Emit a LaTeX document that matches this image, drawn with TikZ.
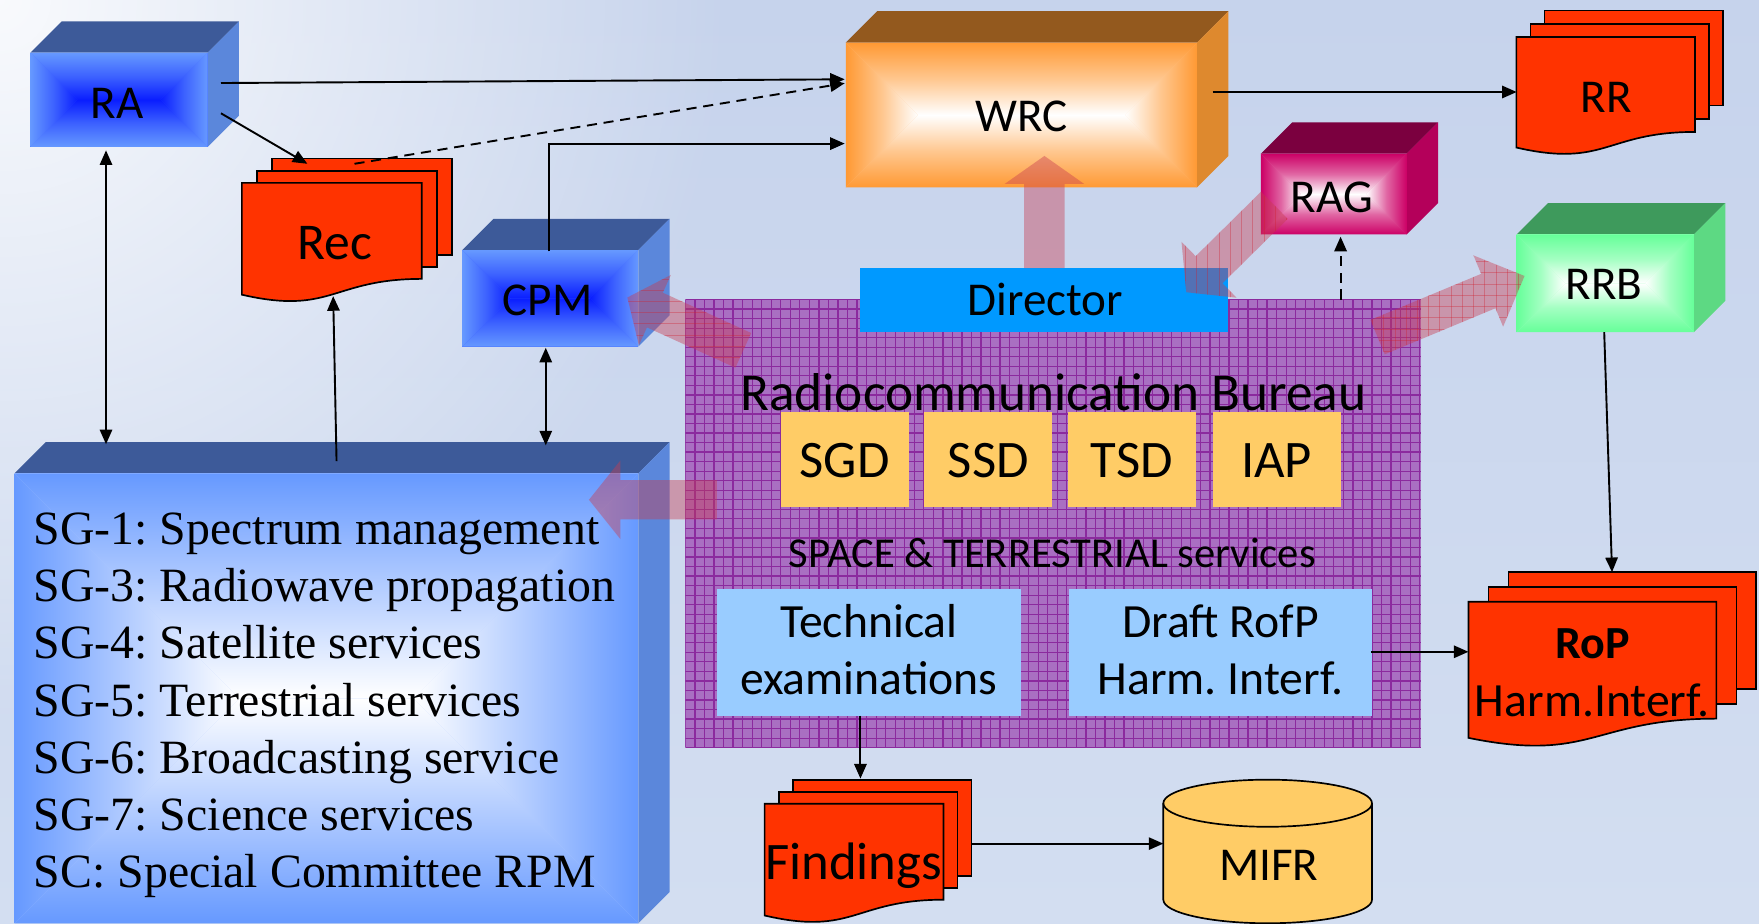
\documentclass[tikz,border=0pt]{standalone}
\usepackage{fontspec}
\setmainfont{Carlito}
\newfontfamily\tnr{Liberation Serif}
\usetikzlibrary{calc,arrows.meta,fadings}
\frenchspacing
\definecolor{bgtop}{HTML}{C6D3EC}
\definecolor{bgbot}{HTML}{D3DEF1}
\definecolor{bedge}{HTML}{6699FF}
\definecolor{bcen}{HTML}{0A1EFF}
\definecolor{btop}{HTML}{3D5A99}
\definecolor{bside}{HTML}{5B87DB}
\definecolor{wedge}{HTML}{FF9933}
\definecolor{wtop}{HTML}{93591E}
\definecolor{wside}{HTML}{DE892E}
\definecolor{gedge}{HTML}{CC0066}
\definecolor{gtop}{HTML}{7B003F}
\definecolor{gside}{HTML}{B4005A}
\definecolor{redge}{HTML}{66FF99}
\definecolor{rtop}{HTML}{3E9A5C}
\definecolor{rside}{HTML}{5DD983}
\definecolor{docred}{HTML}{FF3300}
\definecolor{dirblue}{HTML}{0099FF}
\definecolor{ltblue}{HTML}{99CCFF}
\definecolor{gold}{HTML}{FFCC66}
\definecolor{gridfill}{HTML}{A96FC2}
\definecolor{gridline}{HTML}{8B2A9E}
\definecolor{arrred}{HTML}{C83C50}
\definecolor{arrline}{HTML}{D02030}
\tikzfading[name=myfade, inner color=transparent!0, outer color=transparent!100]

% rectangular gradient: x0 y0 x1 y1 edge center mid
\newcommand\rgrad[7]{%
  \pgfmathsetmacro\rgd{min(#3-#1,#4-#2)/2}%
  \pgfmathsetmacro\rgcy{(#2+#4)/2}%
  \pgfmathsetmacro\rgxa{#1+\rgd}%
  \pgfmathsetmacro\rgxb{#3-\rgd}%
  \fill[#7] (#1,#2) rectangle (#3,#4);
  \shade[top color=#5, bottom color=#6, middle color=#7] (#1,#2) -- (#3,#2) -- (\rgxb,\rgcy) -- (\rgxa,\rgcy) -- cycle;
  \shade[top color=#6, bottom color=#5, middle color=#7] (#1,#4) -- (#3,#4) -- (\rgxb,\rgcy) -- (\rgxa,\rgcy) -- cycle;
  \shade[left color=#5, right color=#6, middle color=#7] (#1,#2) -- (\rgxa,\rgcy) -- (#1,#4) -- cycle;
  \shade[left color=#6, right color=#5, middle color=#7] (#3,#2) -- (\rgxb,\rgcy) -- (#3,#4) -- cycle;
}
% cuboid: x0 y0 x1 y1 edge center mid top side
\newcommand\cuboid[9]{%
  \fill[#8] (#1,#2) -- (#1+28,#2-28) -- (#3+28,#2-28) -- (#3,#2) -- cycle;
  \fill[#9] (#3,#2) -- (#3+28,#2-28) -- (#3+28,#4-28) -- (#3,#4) -- cycle;
  \rgrad{#1}{#2}{#3}{#4}{#5}{#6}{#7}}
% document stack: x0 y0 x1 yr ox oy
\newcommand\docstack[6]{%
  \pgfmathsetmacro\dH{(#4-#2)/0.802}%
  \pgfmathsetmacro\dmid{(#1+#3)/2}%
  \pgfmathsetmacro\dlow{#2+1.1075*\dH}%
  \pgfmathsetmacro\dleft{#2+0.934*\dH}%
  \filldraw[docst] (#1+2*#5,#2-2*#6) rectangle (#3+2*#5,#4-2*#6);
  \filldraw[docst] (#1+#5,#2-#6) rectangle (#3+#5,#4-#6);
  \filldraw[docst] (#1,#2) -- (#3,#2) -- (#3,#4) .. controls (\dmid,#4) and (\dmid,\dlow) .. (#1,\dleft) -- cycle;}
% block arrow polygon
\newcommand\baPoly[6]{%
  \path[#6] ($(#1)!#3!90:(#2)$) -- ($(bhx)!#3!90:(#2)$) -- ($(bhx)!#4!90:(#2)$) -- (#2) -- ($(bhx)!#4!-90:(#2)$) -- ($(bhx)!#3!-90:(#2)$) -- ($(#1)!#3!-90:(#2)$) -- cycle;}
% tail tip w W h linekind(0 none,1 horizontal,2 vertical,3 both)
\newcommand\blockarr[6]{%
  \coordinate (bhx) at ($(#2)!#5!(#1)$);
  \coordinate (bmid) at ($(#1)!0.5!(#2)$);
  \baPoly{#1}{#2}{#3}{#4}{#5}{barr}
  \begin{scope}
    \baPoly{#1}{#2}{#3}{#4}{#5}{clip}
    \ifnum#6=1 \foreach \k in {-9,...,9} {\draw[hl] ($(bmid)+(-100,\k*10)$) -- ++(200,0);}\fi
    \ifnum#6=2 \foreach \k in {-9,...,9} {\draw[hl] ($(bmid)+(\k*10,-100)$) -- ++(0,200);}\fi
    \ifnum#6=3 \foreach \k in {-9,...,9} {\draw[hl] ($(bmid)+(-100,\k*10)$) -- ++(200,0); \draw[hl] ($(bmid)+(\k*10,-100)$) -- ++(0,200);}\fi
  \end{scope}}

\begin{document}
\begin{tikzpicture}[x=1pt,y=-1pt,
  lbl/.style={inner sep=0pt, anchor=base, font=\fontsize{42}{50}\selectfont},
  sgl/.style={inner sep=0pt, anchor=base west, font=\tnr\fontsize{42.6}{51}\selectfont},
  conn/.style={line width=1.7pt, -{Triangle[length=13pt,width=11pt]}},
  dconn/.style={conn, dash pattern=on 9pt off 6pt},
  bconn/.style={line width=1.7pt, {Triangle[length=13pt,width=11pt]}-{Triangle[length=13pt,width=11pt]}},
  docst/.style={fill=docred, draw=black, line width=1.5pt},
  barr/.style={fill=arrred, fill opacity=0.42},
  hl/.style={draw=arrline, draw opacity=0.35, line width=0.8pt},
]
\useasboundingbox (0,0) rectangle (1568,822.8);
% background
\shade[top color=bgtop, bottom color=bgbot] (0,0) rectangle (1568,822.8);
\begin{scope}
  \clip (0,0) rectangle (1568,822.8);
  \fill[white, path fading=myfade, fill opacity=0.9] (0,0) circle (650);
\end{scope}

% Bureau grid area
\fill[gridfill] (611,267) rectangle (1267,666);
\begin{scope}
  \clip (611,267) rectangle (1267,666);
  \foreach \i in {0,...,77} { \draw[gridline, line width=1.1pt] (611+\i*8.5,267) -- (611+\i*8.5,666); }
  \foreach \i in {0,...,47} { \draw[gridline, line width=1.1pt] (611,267+\i*8.5) -- (1267,267+\i*8.5); }
\end{scope}
\node[inner sep=0pt, minimum width=656pt, minimum height=399pt] (Bureau) at (939,466.5) {};

% Director and inner boxes
\fill[dirblue] (767,239) rectangle (1095,296);
\fill[gold] (696,367) rectangle (810,452);
\fill[gold] (824,367) rectangle (938,452);
\fill[gold] (952,367) rectangle (1066,452);
\fill[gold] (1081,367) rectangle (1195,452);
\fill[ltblue] (639,525) rectangle (910,638);
\fill[ltblue] (953,525) rectangle (1223,638);

% cuboids
\cuboid{27}{47}{185}{131}{bedge}{bcen}{bedge!55!bcen}{btop}{bside}
\cuboid{412}{223}{569}{309}{bedge}{bcen}{bedge!55!bcen}{btop}{bside}
\cuboid{754}{38}{1067}{167}{wedge}{white}{wedge!55!white}{wtop}{wside}
\cuboid{1124}{137}{1254}{209}{gedge}{white}{gedge!60!white}{gtop}{gside}
\cuboid{1352}{209}{1510}{296}{redge}{white}{redge!60!white}{rtop}{rside}
\cuboid{13}{422}{569}{823}{bedge}{white}{bedge!50!white}{btop}{bside}

% documents
\docstack{215.6}{163}{376}{248.6}{13.5}{10.8}
\docstack{1351.7}{33}{1511}{117.6}{12.5}{11.8}
\docstack{1309}{536.4}{1530}{640.6}{17.8}{13.3}
\docstack{681.6}{716.4}{841}{802}{12.5}{10.7}

% MIFR cylinder
\filldraw[fill=gold, draw=black, line width=1.5pt] (1037,716) -- (1037,802) arc[start angle=180, end angle=0, x radius=93, y radius=21] -- (1223,716) arc[start angle=0, end angle=-180, x radius=93, y radius=21] -- cycle;
\draw[line width=1.5pt] (1037,716) arc[start angle=180, end angle=0, x radius=93, y radius=21];

% connector end points
\coordinate (raA) at (197,74);   \coordinate (wrcA) at (753,70.7);
\coordinate (raB) at (197,101);  \coordinate (recT) at (274,146);
\coordinate (recD) at (316,146); \coordinate (wrcD) at (753,74.2);
\coordinate (cpmT) at (489,224); \coordinate (wrcC) at (753,128);
\coordinate (raBot) at (94.5,134); \coordinate (sgA) at (94.5,396);
\coordinate (sgB) at (300,411);  \coordinate (recB) at (297,264);
\coordinate (cpmB) at (486.5,310); \coordinate (sgC) at (486.5,397);
\coordinate (wrcR) at (1081,82); \coordinate (rrL) at (1352,82);
\coordinate (rbT) at (1195,267); \coordinate (ragB) at (1195,211);
\coordinate (rrbB) at (1430,296); \coordinate (ropT) at (1437,510);
\coordinate (drR) at (1222,581); \coordinate (ropL) at (1309,581);
\coordinate (teB) at (767,638);  \coordinate (fiT) at (767,694);
\coordinate (fiR) at (866,752);  \coordinate (miL) at (1037,752);

\draw[conn] (raA) -- (wrcA);
\draw[conn] (raB) -- (recT);
\draw[dconn] (recD) -- (wrcD);
\draw[conn] (cpmT) |- (wrcC);
\draw[bconn] (raBot) -- (sgA);
\draw[conn] (sgB) -- (recB);
\draw[bconn] (cpmB) -- (sgC);
\draw[conn] (wrcR) -- (rrL);
\draw[dconn] (rbT) -- (ragB);
\draw[conn] (rrbB) -- (ropT);
\draw[conn] (drR) -- (ropL);
\draw[conn] (teB) -- (fiT);
\draw[conn] (fiR) -- (miL);

% block arrows
\coordinate (aT) at (931,239);    \coordinate (aP) at (931,139);
\coordinate (bT) at (662.6,312.3); \coordinate (bP) at (559.2,265.2);
\coordinate (cT) at (639,445.5);  \coordinate (cP) at (525,445.5);
\coordinate (dT) at (1136,183);   \coordinate (dP) at (1057.5,260.5);
\coordinate (eT) at (1228,300.5); \coordinate (eP) at (1359,246);
\blockarr{aT}{aP}{18pt}{35.5pt}{25pt}{0}
\blockarr{bT}{bP}{17pt}{34.4pt}{27pt}{1}
\blockarr{cT}{cP}{17.5pt}{35pt}{28pt}{0}
\blockarr{dT}{dP}{17pt}{35pt}{28.5pt}{2}
\blockarr{eT}{eP}{16.6pt}{34.4pt}{35pt}{3}

% labels
\node[lbl] (RA) at (104.5,105.5) {RA};
\node[lbl] (CPM) at (488,281) {CPM};
\node[lbl, font=\fontsize{46}{55}\selectfont] (Rec) at (298.5,231) {Rec};
\node[lbl] (WRC) at (910.5,117.5) {WRC};
\node[lbl] (RAG) at (1187,189) {RAG};
\node[lbl] (RRB) at (1430,267) {RRB};
\node[lbl] (RR) at (1432,100) {RR};
\node[lbl] (Dir) at (931.8,281) {Director};
\node[lbl, font=\fontsize{47.5}{57}\selectfont] (RB) at (939,366) {Radiocommunication Bureau};
\node[lbl, font=\fontsize{47}{56}\selectfont] (SGD) at (753,425.5) {SGD};
\node[lbl, font=\fontsize{47}{56}\selectfont] (SSD) at (881,425.5) {SSD};
\node[lbl, font=\fontsize{47}{56}\selectfont] (TSD) at (1009,425.5) {TSD};
\node[lbl, font=\fontsize{47}{56}\selectfont] (IAP) at (1138,425.5) {IAP};
\node[lbl, font=\fontsize{38}{45}\selectfont] (SPT) at (938,505.5) {SPACE \& TERRESTRIAL services};
\node[lbl, font=\fontsize{42.5}{51}\selectfont] (TE1) at (774.5,568) {Technical};
\node[lbl, font=\fontsize{42.5}{51}\selectfont] (TE2) at (774.5,619.5) {examinations};
\node[lbl, font=\fontsize{42.5}{51}\selectfont] (DR1) at (1088,568) {Draft RofP};
\node[lbl, font=\fontsize{42.5}{51}\selectfont] (DR2) at (1088,619.5) {Harm. Interf.};
\node[lbl, font=\fontsize{47}{56}\selectfont] (Fi) at (761,784) {Findings};
\node[lbl] (MIFR) at (1131,784.5) {MIFR};
\node[lbl, font=\bfseries\fontsize{41}{49}\selectfont] (RoP) at (1419.5,587) {RoP};
\node[lbl, font=\fontsize{42.5}{51}\selectfont] (RoP2) at (1419.5,638.5) {Harm.Interf.};
\node[sgl] (sg1) at (30,485.6) {SG-1: Spectrum management};
\node[sgl] (sg3) at (30,536.5) {SG-3: Radiowave propagation};
\node[sgl] (sg4) at (30,587.4) {SG-4: Satellite services};
\node[sgl] (sg5) at (30,638.3) {SG-5: Terrestrial services};
\node[sgl] (sg6) at (30,689.2) {SG-6: Broadcasting service};
\node[sgl] (sg7) at (30,740.1) {SG-7: Science services};
\node[sgl] (sc) at (30,791) {SC: Special Committee RPM};
\end{tikzpicture}
\end{document}
